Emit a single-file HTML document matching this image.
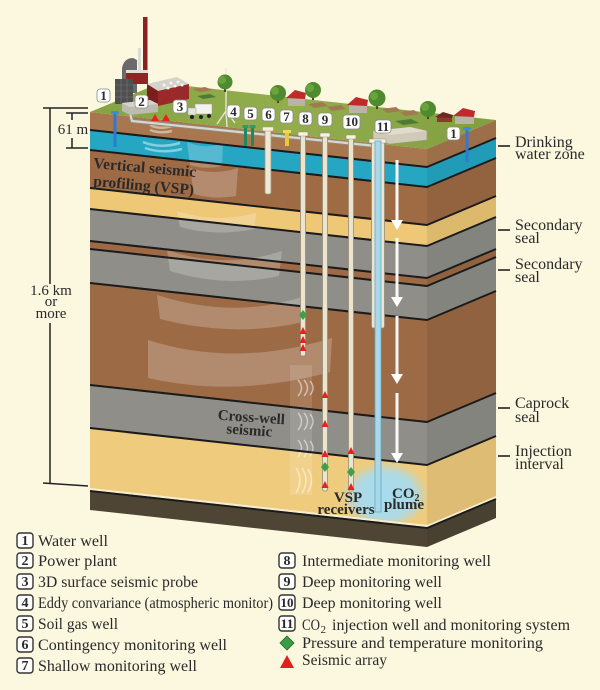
<!DOCTYPE html>
<html><head><meta charset="utf-8"><style>
html,body{margin:0;padding:0;background:#fcf7df;}
svg{display:block;}
text{font-family:"Liberation Serif",serif;fill:#2a2a2a;}
</style></head><body>
<svg width="600" height="690" viewBox="0 0 600 690" xmlns="http://www.w3.org/2000/svg">
<defs>
<radialGradient id="plume" cx="0.5" cy="0.55" r="0.5">
<stop offset="0" stop-color="#a6dcf0" stop-opacity="1"/>
<stop offset="0.65" stop-color="#a6dcf0" stop-opacity="0.9"/>
<stop offset="1" stop-color="#a6dcf0" stop-opacity="0"/>
</radialGradient>
<linearGradient id="grass" x1="0" y1="0" x2="1" y2="0">
<stop offset="0" stop-color="#86a443"/>
<stop offset="0.5" stop-color="#93ad4c"/>
<stop offset="1" stop-color="#819f40"/>
</linearGradient>
<clipPath id="yclip"><polygon points="90,428 427,465 496,436 496,496 427,525 90,488"/></clipPath>
</defs>
<rect width="600" height="690" fill="#fcf7df"/>

<!-- layers -->
<polygon points="90,112 427,149 496,120 496,138 427,167 90,130" fill="#a8774f"/>
<polygon points="90,130 427,167 496,138 496,158 427,187 90,150" fill="#25a7c4"/>
<polygon points="90,150 427,187 496,158 496,196 427,225 90,188" fill="#9f6b45"/>
<polygon points="90,188 427,225 496,196 496,217 427,246 90,209" fill="#eec877"/>
<polygon points="90,209 427,246 496,217 496,249 427,278 90,241" fill="#8f8e88"/>
<polygon points="90,241 427,278 496,249 496,257 427,286 90,249" fill="#9d6a45"/>
<polygon points="90,249 427,286 496,257 496,291 427,320 90,283" fill="#8f8e88"/>
<polygon points="90,283 427,320 496,291 496,393 427,422 90,385" fill="#9c6a45"/>
<polygon points="90,385 427,422 496,393 496,436 427,465 90,428" fill="#8f8e88"/>
<polygon points="90,428 427,465 496,436 496,496 427,525 90,488" fill="#efcb7d"/>
<polygon points="90,491 427,528 496,499 496,518 427,547 90,510" fill="#4e4535"/>
<!-- right face shade -->
<polygon points="427,149 496,120 496,518 427,547" fill="#000" opacity="0.07"/>

<!-- seismic fans -->
<g fill="#fff" opacity="0.22">
<path d="M177,211 Q215,224 256,213 L254,229 Q215,237 180,227 Z"/>
<path d="M167,250 Q225,270 282,251 L279,276 Q225,288 170,271 Z"/>
<path d="M157,295 Q235,320 305,296 L303,322 Q235,338 160,319 Z"/>
<path d="M148,340 Q235,368 332,338 L330,372 Q235,398 148,378 Z"/>
<path d="M187,142 Q205,150 223,143 L222,166 Q205,170 190,165 Z"/>
<path d="M190,168 Q214,176 238,168 L236,196 Q214,200 194,194 Z"/>
</g>
<g fill="none" stroke="#fff" stroke-opacity="0.45" stroke-width="2.5">
<path d="M143,142 Q160,149 180,143"/>
<path d="M145,148 Q162,154 182,149"/>
<path d="M150,125 Q160,130 172,126"/>
<path d="M150,130 Q160,134 172,131"/>
</g>
<rect x="290" y="365" width="22" height="130" fill="#fff" opacity="0.12"/>
<g fill="none" stroke="#fff" stroke-opacity="0.5" stroke-width="1.5">
<path d="M298,380 Q305,388 298,396"/><path d="M304,380 Q311,388 304,396"/><path d="M310,381 Q316,388 310,395"/>
<path d="M298,413 Q305,421 298,430"/><path d="M304,413 Q311,421 304,430"/><path d="M310,414 Q316,421 310,429"/>
<path d="M298,440 Q305,448 298,457"/><path d="M304,440 Q311,448 304,457"/><path d="M310,441 Q316,448 310,456"/>
<path d="M296,468 Q304,480 296,493"/><path d="M302,468 Q310,480 302,493"/><path d="M308,469 Q315,480 308,492"/>
</g>

<!-- plume -->
<g clip-path="url(#yclip)"><ellipse cx="385" cy="492" rx="44" ry="34" fill="url(#plume)"/></g>

<!-- boundary lines -->
<g fill="none" stroke="#1b1b1b" stroke-width="2">
<polyline points="90,130 427,167 496,138"/>
<polyline points="90,150 427,187 496,158"/>
<polyline points="90,188 427,225 496,196"/>
<polyline points="90,209 427,246 496,217"/>
<polyline points="90,241 427,278 496,249"/>
<polyline points="90,249 427,286 496,257"/>
<polyline points="90,283 427,320 496,291"/>
<polyline points="90,385 427,422 496,393"/>
<polyline points="90,428 427,465 496,436"/>
<polyline points="90,491 427,528 496,499"/>
</g>
<polyline points="90,489 427,526 496,497" fill="none" stroke="#f6ecc8" stroke-width="1.5"/>

<!-- top surface -->
<polygon points="90,112 427,149 496,120 160,83" fill="url(#grass)"/>
<!-- fields -->
<g fill="#a27a52">
<polygon points="192,89 205,87 213,90 200,92"/>
<polygon points="308,104 322,102 328,106 314,108"/>
<polygon points="327,107 341,105 346,109 332,111"/>
<polygon points="382,109 396,107 401,111 387,113"/>
<polygon points="400,112 414,110 419,114 405,116"/>
</g>
<g fill="#4f7a35">
<polygon points="197,96 210,94 216,97 203,99"/>
<polygon points="395,121 411,119 419,123 403,125"/>
</g>

<!-- surface pipe -->
<polyline points="130,113 132,121 376,146" fill="none" stroke="#8f8c82" stroke-width="4"/>
<polyline points="130,113 132,121 376,146" fill="none" stroke="#d9d6cc" stroke-width="2.2"/>

<!-- power plant -->
<rect x="143" y="17" width="4.5" height="56" fill="#8a2222"/>
<rect x="138" y="48" width="3" height="24" fill="#dcdcd6"/>
<path d="M122,93 L122,68 Q124,58 133,58 L137,60 L137,93 Z" fill="#6a6a6a"/>
<rect x="126" y="70" width="22" height="3" fill="#e2dfd6"/>
<rect x="126" y="73" width="22" height="11" fill="#8e2424"/>
<rect x="115" y="79" width="18" height="25" fill="#4f4f4f"/>
<g stroke="#777" stroke-width="0.6"><line x1="115" y1="85" x2="133" y2="85"/><line x1="115" y1="91" x2="133" y2="91"/><line x1="115" y1="97" x2="133" y2="97"/><line x1="121" y1="79" x2="121" y2="104"/><line x1="127" y1="79" x2="127" y2="104"/></g>
<polygon points="147,84 177,77 189,84 158,91" fill="#d4d2ca"/>
<polygon points="147,84 158,91 158,106 147,101" fill="#7a1e1e"/>
<polygon points="158,91 189,84 189,99 158,106" fill="#9a2a2a"/>
<g fill="#f4f4f0"><circle cx="164" cy="85" r="1.5"/><circle cx="171" cy="83" r="1.5"/><circle cx="178" cy="82" r="1.5"/><circle cx="168" cy="88" r="1.5"/><circle cx="175" cy="86" r="1.5"/><circle cx="182" cy="85" r="1.5"/></g>
<polygon points="122,103 150,100 158,104 158,112 130,115 122,111" fill="#bdbab0"/>
<polygon points="122,103 150,100 158,104 130,107" fill="#d6d3c9"/>
<!-- truck -->
<rect x="195" y="104" width="17" height="10" fill="#f2f2ee" stroke="#999" stroke-width="0.5"/>
<rect x="188" y="108" width="8" height="7" fill="#e4e4e0" stroke="#999" stroke-width="0.5"/>
<circle cx="192" cy="117" r="2" fill="#222"/><circle cx="201" cy="117" r="2" fill="#222"/><circle cx="209" cy="116" r="2" fill="#222"/>
<!-- eddy tower -->
<g stroke="#e8e6de" stroke-width="1.4" fill="none"><line x1="226" y1="68" x2="226" y2="113"/><line x1="226" y1="111" x2="217" y2="124"/><line x1="226" y1="111" x2="235" y2="123"/><line x1="226" y1="111" x2="227" y2="127"/></g>
<!-- trees -->
<g>
<rect x="224" y="86" width="2" height="6" fill="#5a3d22"/><circle cx="225" cy="82" r="7.5" fill="#4e8a2e"/><circle cx="222" cy="80" r="4" fill="#6aa33e"/>
<rect x="277" y="97" width="2" height="6" fill="#5a3d22"/><circle cx="278" cy="93" r="8" fill="#4e8a2e"/><circle cx="275" cy="91" r="4" fill="#6aa33e"/>
<rect x="312" y="94" width="2" height="6" fill="#5a3d22"/><circle cx="313" cy="90" r="8" fill="#4e8a2e"/><circle cx="310" cy="88" r="4" fill="#6aa33e"/>
<rect x="376" y="103" width="2" height="6" fill="#5a3d22"/><circle cx="377" cy="98" r="8.5" fill="#4e8a2e"/><circle cx="374" cy="96" r="4" fill="#6aa33e"/>
<rect x="427" y="113" width="2" height="6" fill="#5a3d22"/><circle cx="428" cy="109" r="8" fill="#4e8a2e"/><circle cx="425" cy="107" r="4" fill="#6aa33e"/>
</g>
<!-- houses -->
<g>
<rect x="288" y="97" width="17" height="9" fill="#b8b4a8"/><polygon points="286,98 295,90 306,93 305,99" fill="#c02a2a"/>
<rect x="349" y="104" width="18" height="9" fill="#b8b4a8"/><polygon points="347,105 356,97 368,100 367,106" fill="#c02a2a"/>
<rect x="437" y="116" width="15" height="6" fill="#8a3a2a"/><polygon points="435,117 443,112 453,115 452,118" fill="#6e2a22"/>
<rect x="455" y="115" width="19" height="9" fill="#b8b4a8"/><polygon points="453,116 463,108 475,111 474,117" fill="#c02a2a"/>
</g>
<!-- injection building -->
<polygon points="373,131 410,127 427,131 427,140 390,144 373,140" fill="#cfcbb6" stroke="#9a968a" stroke-width="0.6"/>
<polygon points="373,131 410,127 427,131 390,135" fill="#e0dccb"/>

<!-- wells -->
<rect x="113.5" y="112" width="3" height="35" fill="#2f7ad0"/><rect x="111" y="111" width="8" height="3" rx="1" fill="#3d8ae0"/>
<rect x="465.5" y="128" width="3" height="34" fill="#2f7ad0"/><rect x="463" y="127" width="8" height="3" rx="1" fill="#3d8ae0"/>
<rect x="244" y="126" width="3" height="20" fill="#1e8a5c"/><rect x="251" y="126" width="3" height="20" fill="#1e8a5c"/>
<rect x="242.5" y="125" width="6" height="3" fill="#25a06a"/><rect x="249.5" y="125" width="6" height="3" fill="#25a06a"/>
<rect x="265" y="129" width="6" height="65" rx="2" fill="#efe9d4" stroke="#a09884" stroke-width="0.8"/>
<rect x="262.5" y="127" width="11" height="4" rx="1" fill="#f5f0dc" stroke="#a09884" stroke-width="0.6"/>
<rect x="285" y="131" width="4" height="15" fill="#e2cb3e"/><rect x="283" y="130" width="8" height="3" fill="#f0da52"/>
<g fill="#ebe5cf" stroke="#958d78" stroke-width="0.8">
<rect x="300.5" y="134" width="5" height="222" rx="2"/>
<rect x="322.5" y="135" width="5" height="356" rx="2"/>
<rect x="348.5" y="137" width="5" height="354" rx="2"/>
<rect x="371.5" y="141" width="13" height="187" rx="2"/>
</g>
<g fill="#f6f2e2" stroke="#958d78" stroke-width="0.6">
<rect x="298" y="132" width="10" height="4" rx="1"/>
<rect x="320" y="133" width="10" height="4" rx="1"/>
<rect x="346" y="135" width="10" height="4" rx="1"/>
<rect x="369" y="139" width="17" height="4" rx="1"/>
</g>
<rect x="375" y="141" width="6" height="371" fill="#a8d8ea" stroke="#6aa9c2" stroke-width="0.8"/>

<!-- white arrows -->
<g stroke="#fff" stroke-width="3" fill="none" opacity="0.95">
<line x1="397" y1="160" x2="397" y2="222"/>
<line x1="397" y1="238" x2="397" y2="299"/>
<line x1="397" y1="316" x2="397" y2="376"/>
<line x1="397" y1="393" x2="397" y2="455"/>
</g>
<g fill="#fff">
<polygon points="391,220 403,220 397,230"/>
<polygon points="391,297 403,297 397,307"/>
<polygon points="391,374 403,374 397,384"/>
<polygon points="391,453 403,453 397,463"/>
</g>

<!-- markers -->
<g fill="#e5221d">
<polygon points="151,121 155,114 159,121"/><polygon points="162,121 166,114 170,121"/>
<polygon points="299.5,334 303,327 306.5,334"/><polygon points="299.5,343 303,336 306.5,343"/><polygon points="299.5,351 303,344 306.5,351"/>
<polygon points="321.5,398 325,391 328.5,398"/><polygon points="321.5,427 325,420 328.5,427"/><polygon points="321.5,457 325,450 328.5,457"/><polygon points="321.5,488 325,481 328.5,488"/>
<polygon points="347.5,454 351,447 354.5,454"/><polygon points="347.5,490 351,483 354.5,490"/>
</g>
<g fill="#3fa048">
<polygon points="303,310 307,315 303,320 299,315"/>
<polygon points="325,462 329,467 325,472 321,467"/>
<polygon points="351,467 355,472 351,477 347,472"/>
</g>

<!-- top number boxes -->
<g fill="#fff" stroke="#8a8a8a" stroke-width="0.8">
<rect x="97" y="89" width="13" height="13" rx="3"/>
<rect x="135" y="95" width="13" height="13" rx="3"/>
<rect x="173" y="100" width="14" height="13" rx="3"/>
<rect x="227" y="105" width="13" height="13" rx="3"/>
<rect x="244" y="107" width="13" height="13" rx="3"/>
<rect x="262" y="108" width="13" height="13" rx="3"/>
<rect x="280" y="110" width="13" height="13" rx="3"/>
<rect x="299" y="112" width="13" height="13" rx="3"/>
<rect x="318" y="113" width="14" height="13" rx="3"/>
<rect x="343" y="115" width="17" height="14" rx="3"/>
<rect x="375" y="120" width="16" height="13" rx="3"/>
<rect x="447" y="127" width="13" height="13" rx="3"/>
</g>
<g font-size="13" font-weight="bold" text-anchor="middle">
<text x="103.5" y="100">1</text>
<text x="141.5" y="106">2</text>
<text x="180" y="111">3</text>
<text x="233.5" y="116">4</text>
<text x="250.5" y="118">5</text>
<text x="268.5" y="119">6</text>
<text x="286.5" y="121">7</text>
<text x="305.5" y="123">8</text>
<text x="325" y="124">9</text>
<text x="351.5" y="126">10</text>
<text x="383" y="131">11</text>
<text x="453.5" y="138">1</text>
</g>

<!-- in-block labels -->
<g font-weight="bold" fill="#3b2616" font-size="15.5">
<text x="93" y="168" transform="rotate(5 93 168)" fill="#3b2616">Vertical seismic</text>
<text x="93" y="186" transform="rotate(5 93 186)" fill="#3b2616">profiling (VSP)</text>
</g>
<g font-weight="bold" font-size="15">
<text x="251" y="422" text-anchor="middle" transform="rotate(4 251 422)" fill="#2b2b2b">Cross-well</text>
<text x="249" y="435" text-anchor="middle" transform="rotate(4 249 435)" fill="#2b2b2b">seismic</text>
<text x="348" y="502" text-anchor="middle" fill="#2b2b2b">VSP</text>
<text x="346" y="514" text-anchor="middle" fill="#2b2b2b">receivers</text>
<text x="392" y="498" fill="#2b2b2b">CO<tspan font-size="10" dy="3">2</tspan></text>
<text x="404" y="509" text-anchor="middle" fill="#2b2b2b">plume</text>
</g>

<!-- right labels -->
<g stroke="#222" stroke-width="1.6">
<line x1="498" y1="146" x2="510" y2="146"/>
<line x1="498" y1="230" x2="510" y2="230"/>
<line x1="498" y1="270" x2="510" y2="270"/>
<line x1="498" y1="408" x2="510" y2="408"/>
<line x1="498" y1="456" x2="510" y2="456"/>
</g>
<g font-size="16">
<text x="515" y="147">Drinking</text><text x="515" y="159">water zone</text>
<text x="515" y="230">Secondary</text><text x="515" y="243">seal</text>
<text x="515" y="269">Secondary</text><text x="515" y="282">seal</text>
<text x="515" y="408">Caprock</text><text x="515" y="422">seal</text>
<text x="515" y="456">Injection</text><text x="515" y="469">interval</text>
</g>

<!-- dimension lines -->
<g stroke="#222" stroke-width="1.5" fill="none">
<line x1="50" y1="108" x2="50" y2="284"/>
<line x1="50" y1="323" x2="50" y2="483"/>
<line x1="43" y1="108" x2="88" y2="108"/>
<line x1="43" y1="483" x2="88" y2="486"/>
<line x1="66" y1="113" x2="88" y2="113"/>
<line x1="66" y1="148" x2="88" y2="148"/>
<line x1="72" y1="113" x2="72" y2="120"/>
<line x1="72" y1="138" x2="72" y2="148"/>
</g>
<g font-size="15" text-anchor="middle">
<text x="73" y="134">61 m</text>
<text x="51" y="295">1.6 km</text>
<text x="51" y="306">or</text>
<text x="51" y="318">more</text>
</g>

<!-- legend -->
<g fill="#fff" stroke="#333" stroke-width="1.4">
<rect x="17" y="533" width="16" height="15" rx="3"/>
<rect x="17" y="553" width="16" height="15" rx="3"/>
<rect x="17" y="574" width="16" height="15" rx="3"/>
<rect x="17" y="595" width="16" height="15" rx="3"/>
<rect x="17" y="616" width="16" height="15" rx="3"/>
<rect x="17" y="637" width="16" height="15" rx="3"/>
<rect x="17" y="658" width="16" height="15" rx="3"/>
<rect x="279" y="553" width="16" height="15" rx="3"/>
<rect x="279" y="574" width="16" height="15" rx="3"/>
<rect x="279" y="595" width="16" height="15" rx="3"/>
<rect x="279" y="616" width="16" height="15" rx="3"/>
</g>
<g font-size="14" text-anchor="middle" font-weight="bold">
<text x="25" y="545">1</text>
<text x="25" y="565">2</text>
<text x="25" y="586">3</text>
<text x="25" y="607">4</text>
<text x="25" y="628">5</text>
<text x="25" y="649">6</text>
<text x="25" y="670">7</text>
<text x="287" y="565">8</text>
<text x="287" y="586">9</text>
<text x="287" y="607" font-size="13" textLength="13" lengthAdjust="spacingAndGlyphs">10</text>
<text x="287" y="628" font-size="13" textLength="13" lengthAdjust="spacingAndGlyphs">11</text>
</g>
<polygon points="287,636 294,643 287,650 280,643" fill="#3a9c45" stroke="#1f6a2a" stroke-width="0.8"/>
<polygon points="287,655 294,668 280,668" fill="#e0201c"/>
<g font-size="16">
<text x="38" y="546" textLength="70" lengthAdjust="spacingAndGlyphs">Water well</text>
<text x="38" y="566" textLength="79" lengthAdjust="spacingAndGlyphs">Power plant</text>
<text x="38" y="587" textLength="160" lengthAdjust="spacingAndGlyphs">3D surface seismic probe</text>
<text x="38" y="608" textLength="235" lengthAdjust="spacingAndGlyphs">Eddy convariance (atmospheric monitor)</text>
<text x="38" y="629" textLength="80" lengthAdjust="spacingAndGlyphs">Soil gas well</text>
<text x="38" y="650" textLength="189" lengthAdjust="spacingAndGlyphs">Contingency monitoring well</text>
<text x="38" y="671" textLength="159" lengthAdjust="spacingAndGlyphs">Shallow monitoring well</text>
<text x="302" y="566" textLength="189" lengthAdjust="spacingAndGlyphs">Intermediate monitoring well</text>
<text x="302" y="587" textLength="140" lengthAdjust="spacingAndGlyphs">Deep monitoring well</text>
<text x="302" y="608" textLength="140" lengthAdjust="spacingAndGlyphs">Deep monitoring well</text>
<text x="302" y="630" textLength="18" lengthAdjust="spacingAndGlyphs">CO</text>
<text x="320.5" y="633" font-size="11">2</text>
<text x="332" y="630" textLength="238" lengthAdjust="spacingAndGlyphs">injection well and monitoring system</text>
<text x="302" y="648" textLength="241" lengthAdjust="spacingAndGlyphs">Pressure and temperature monitoring</text>
<text x="302" y="665" textLength="85" lengthAdjust="spacingAndGlyphs">Seismic array</text>
</g>
</svg>
</body></html>
